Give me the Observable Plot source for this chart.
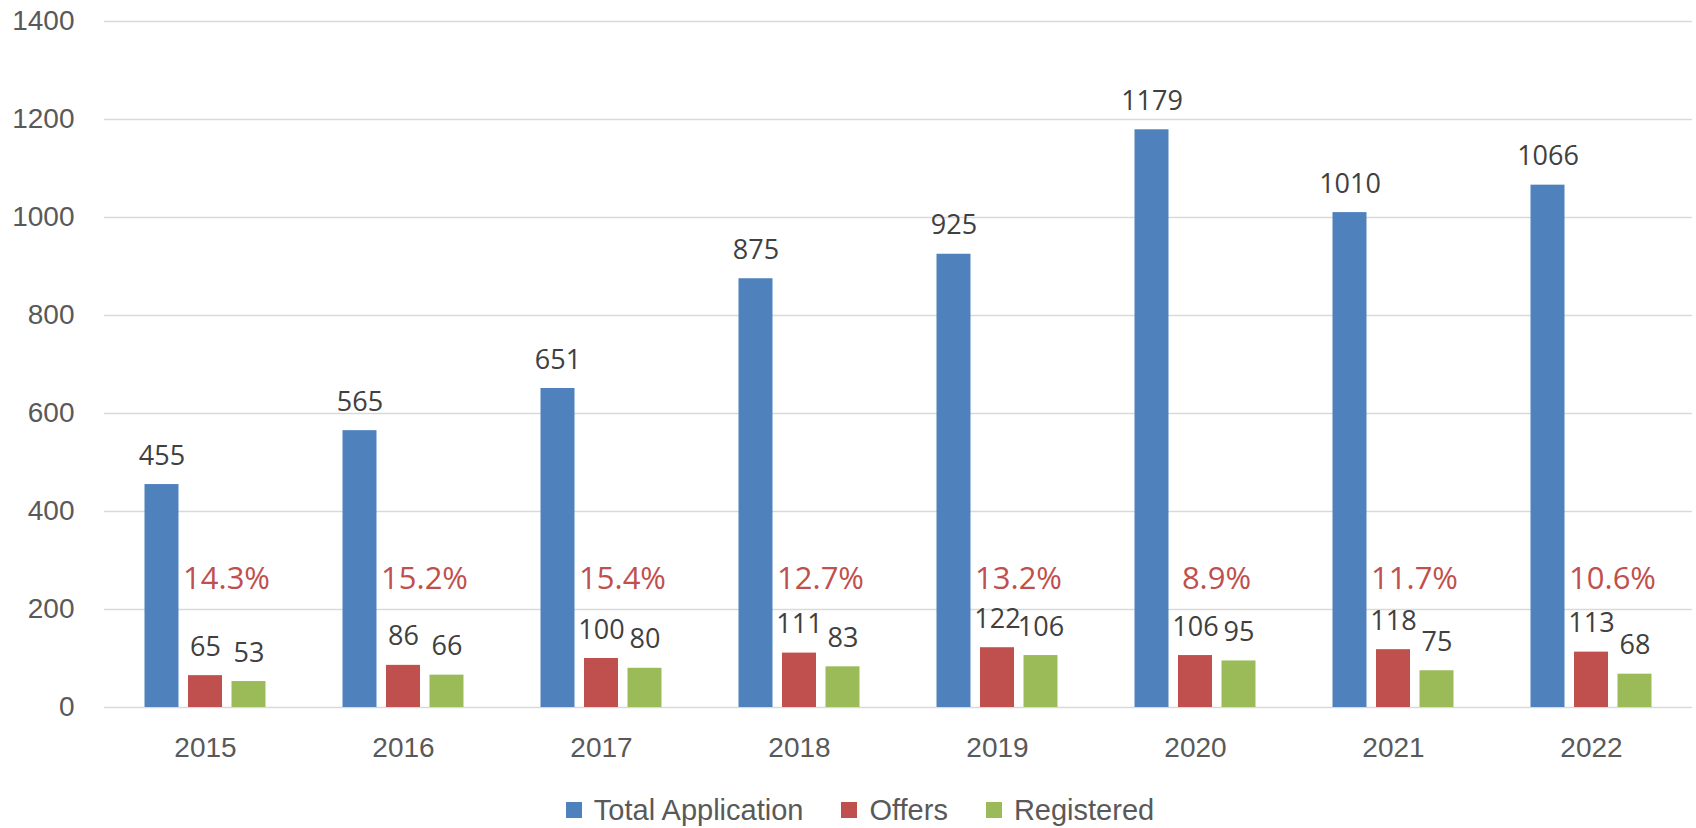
<!DOCTYPE html>
<html>
<head>
<meta charset="utf-8">
<script src="https://cdn.jsdelivr.net/npm/d3@7"></script>
<script src="https://cdn.jsdelivr.net/npm/@observablehq/plot@0.6"></script>
<style>
  html, body { margin: 0; padding: 0; background: #fff; }
  #chart svg { display: block; }
  .legend { display: flex; justify-content: center; align-items: center; height: 34px; margin-top: 13px; padding-left: 24px;
    font-family: "Liberation Sans", Arial, sans-serif; font-size: 29px; color: #595959; }
  .legend .item { display: flex; align-items: center; margin: 0 19px; }
  .legend .sw { width: 16px; height: 16px; margin-right: 12px; }
</style>
</head>
<body>
<div id="chart"></div>
<script>
const years = ["2015", "2016", "2017", "2018", "2019", "2020", "2021", "2022"];
const totalApplication = [455, 565, 651, 875, 925, 1179, 1010, 1066];
const offers = [65, 86, 100, 111, 122, 106, 118, 113];
const registered = [53, 66, 80, 83, 106, 95, 75, 68];
const offerRate = ["14.3%", "15.2%", "15.4%", "12.7%", "13.2%", "8.9%", "11.7%", "10.6%"];
const yTicks = [0, 200, 400, 600, 800, 1000, 1200, 1400];
const seriesNames = ["Total Application", "Offers", "Registered"];
const seriesColors = ["#4f81bd", "#c0504d", "#9bbb59"];

const rows = years.map((year, i) => ({
  year, total: totalApplication[i], offers: offers[i], registered: registered[i], rate: offerRate[i]
}));

const labelStyle = {fontFamily: "Open Sans", fontSize: 27, fill: "#404040", textAnchor: "middle", lineAnchor: "bottom"};
const fields = ["total", "offers", "registered"];
const offsets = [-43.5, 0, 43.5];

const marks = [
  Plot.gridY(yTicks, {stroke: "#d9d9d9", strokeOpacity: 1, strokeWidth: 1.5}),
  Plot.axisY({ticks: yTicks, tickFormat: d => String(d), tickSize: 0, tickPadding: 30, label: null, fontSize: 28, fill: "#595959"}),
  Plot.axisX({tickSize: 0, tickPadding: 30, label: null, fontSize: 28, fill: "#595959"})
];
fields.forEach((f, k) => {
  marks.push(Plot.barY(rows, {x: "year", y: f, fill: seriesColors[k], dx: offsets[k]}));
  marks.push(Plot.text(rows, {x: "year", y: f, text: d => String(d[f]), dx: offsets[k], dy: -20, ...labelStyle}));
});
marks.push(Plot.text(rows, {x: "year", text: "rate", frameAnchor: "bottom", dx: 21, dy: -119,
  fontFamily: "Open Sans", fontSize: 31, fill: "#c0504d", textAnchor: "middle", lineAnchor: "bottom"}));

const chart = Plot.plot({
  width: 1696,
  height: 780,
  marginLeft: 104,
  marginRight: 4,
  marginTop: 21,
  marginBottom: 73,
  style: {fontFamily: "Liberation Sans", fontSize: "28px", color: "#595959", background: "#fff"},
  x: {type: "band", domain: years, paddingInner: 0.826, paddingOuter: 0.413, axis: null},
  y: {domain: [0, 1400], axis: null},
  marks
});
document.getElementById("chart").appendChild(chart);

const legend = document.createElement("div");
legend.className = "legend";
seriesNames.forEach((name, k) => {
  const item = document.createElement("div");
  item.className = "item";
  const sw = document.createElement("div");
  sw.className = "sw";
  sw.style.background = seriesColors[k];
  const t = document.createElement("span");
  t.textContent = name;
  item.appendChild(sw);
  item.appendChild(t);
  legend.appendChild(item);
});
document.body.appendChild(legend);
</script>
</body>
</html>
